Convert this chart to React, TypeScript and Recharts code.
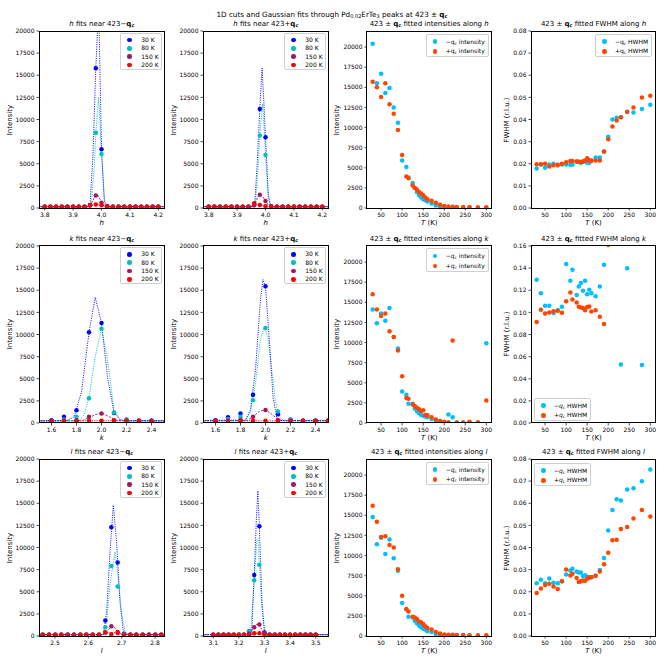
import React from 'react';
import { ScatterChart, Scatter, XAxis, YAxis } from 'recharts';

const FONT = "'DejaVu Sans', sans-serif";
const C30 = '#0000ff';
const C80 = '#00bfbf';
const C150 = '#a3175f';
const C200 = '#ff0000';
const CMINUS = '#00bfff';
const CPLUS = '#ff4500';

// ---------- temperature dependence ----------
const temps = [30, 40, 50, 60, 70, 80, 90, 100, 110, 115, 125, 130, 135, 140, 145, 150, 155, 160, 170, 180, 190, 200, 210, 220, 230, 245, 260, 280, 300];

const hIntMinus = [20400, 15500, 16700, 14300, 14900, 12500, 10600, 5900, 5100, 3800, 3100, 2500, 2000, 1600, 1300, 1100, 950, 800, 550, 300, 150, 80, 60, 50, 40, 40, 40, 40, 40];
const hIntPlus = [15700, 15000, 13800, 15500, 12900, 11700, 9700, 6600, 3900, 3700, 2800, 2500, 2300, 2000, 1800, 1600, 1300, 1100, 900, 650, 400, 250, 180, 150, 130, 120, 110, 100, 100];
const kIntMinus = [14100, 12400, 13600, 12700, 14300, 10700, 9250, 3900, 3500, 2400, 2400, 1800, 1500, 1200, 1000, 900, 800, 700, 500, 300, 200, 100, 1050, 700, 50, 50, 100, 50, 9900];
const kIntPlus = [16000, 14100, 13300, 13600, 11400, 10700, 9000, 5800, 3100, 3000, 2300, 2100, 1900, 1700, 1500, 1600, 1000, 950, 700, 450, 250, 150, 100, 10250, 50, 50, 150, 50, 2800];
const lIntMinus = [14800, 11400, 12200, 10200, 12000, 9650, 8100, 4100, 3300, 2400, 2300, 1900, 1600, 1300, 1100, 900, 800, 600, 500, 250, 150, 100, 50, 50, 50, 50, 50, 50, 50];
const lIntPlus = [16200, 14200, 12300, 12400, 11300, 11000, 8300, 5000, 3350, 3050, 2400, 2300, 2100, 1800, 1700, 1500, 1200, 1000, 800, 500, 300, 200, 150, 150, 120, 120, 100, 100, 100];

const hFwMinus = [0.0178, 0.0197, 0.0182, 0.0197, 0.0200, 0.0192, 0.0197, 0.0197, 0.0195, 0.0197, 0.0210, 0.0210, 0.0205, 0.0210, 0.0210, 0.0205, 0.0205, 0.0215, 0.0228, 0.0228, 0.0255, 0.0322, 0.0400, 0.0408, 0.0410, 0.0434, 0.0432, 0.0447, 0.0467];
const hFwPlus = [0.0198, 0.0198, 0.0200, 0.0188, 0.0193, 0.0195, 0.0200, 0.0207, 0.0212, 0.0212, 0.0210, 0.0208, 0.0208, 0.0210, 0.0215, 0.0225, 0.0215, 0.0213, 0.0215, 0.0215, 0.0255, 0.0311, 0.0368, 0.0395, 0.0410, 0.0435, 0.0454, 0.0500, 0.0507];
const kFwMinus = [0.1296, 0.1172, 0.106, 0.106, 0.0994, 0.102, 0.105, 0.1437, 0.1286, 0.1386, 0.1157, 0.1235, 0.1265, 0.1196, 0.1286, 0.1163, 0.1205, 0.1172, 0.1145, 0.1235, 0.1431, null, null, null, 0.0528, 0.1398, null, 0.0525, null];
const kFwPlus = [0.0912, 0.1024, 0.099, 0.100, 0.101, 0.1015, 0.0997, 0.110, 0.118, 0.1117, 0.109, 0.105, 0.1045, 0.104, 0.102, 0.1048, 0.1054, 0.1009, 0.102, 0.096, 0.0894, 0.161, null, null, null, null, null, null, null];
const lFwMinus = [0.0238, 0.0254, 0.0238, 0.026, 0.0241, 0.0238, 0.0248, 0.0278, 0.0296, 0.0304, 0.0292, 0.0287, 0.0287, 0.0271, 0.0275, 0.0268, 0.0263, 0.0266, 0.0272, 0.0298, 0.0353, 0.0477, 0.0569, 0.0618, 0.0612, 0.0662, 0.0668, 0.070, 0.0752];
const lFwPlus = [0.0194, 0.0215, 0.023, 0.0236, 0.0224, 0.0212, 0.0248, 0.0301, 0.0274, 0.0281, 0.0262, 0.0244, 0.0248, 0.0251, 0.025, 0.0259, 0.0265, 0.0265, 0.0272, 0.0292, 0.0324, 0.0376, 0.0433, 0.0435, 0.0484, 0.0493, 0.0531, 0.0569, 0.054];

// ---------- 1D cuts ----------
const hGrid = [3.80, 3.82, 3.84, 3.86, 3.88, 3.90, 3.92, 3.94, 3.96, 3.98, 4.00, 4.02, 4.04, 4.06, 4.08, 4.10, 4.12, 4.14, 4.16, 4.18, 4.20];
const hMinus30 = [150, 150, 150, 150, 150, 150, 150, 150, 350, 15800, 6650, 200, 150, 150, 150, 150, 150, 150, 150, 150, 150];
const hMinus80 = [150, 150, 150, 150, 150, 150, 150, 150, 250, 8500, 6100, 200, 150, 150, 150, 150, 150, 150, 150, 150, 150];
const hMinus150 = [150, 150, 150, 150, 150, 150, 150, 150, 300, 1400, 600, 200, 150, 150, 150, 150, 150, 150, 150, 150, 150];
const hMinus200 = [150, 150, 150, 150, 150, 150, 150, 150, 350, 400, 300, 200, 150, 150, 150, 150, 150, 150, 150, 150, 150];
const hPlus30 = [150, 150, 150, 150, 150, 150, 150, 150, 500, 11200, 8000, 200, 150, 150, 150, 150, 150, 150, 150, 150, 150];
const hPlus80 = [150, 150, 150, 150, 150, 150, 150, 150, 300, 8200, 6000, 200, 150, 150, 150, 150, 150, 150, 150, 150, 150];
const hPlus150 = [150, 150, 150, 150, 150, 150, 150, 150, 300, 1500, 800, 200, 150, 150, 150, 150, 150, 150, 150, 150, 150];
const hPlus200 = [150, 150, 150, 150, 150, 150, 150, 150, 450, 350, 200, 150, 150, 150, 150, 150, 150, 150, 150, 150, 150];

const kGridMinus = [1.6, 1.7, 1.8, 1.9, 2.0, 2.1, 2.2, 2.3, 2.4];
const kMinus30 = [300, 720, 1440, 10250, 11300, 1130, 300, 250, 250];
const kMinus80 = [250, 400, 720, 2800, 10650, 1200, 420, 250, 250];
const kMinus150 = [250, 250, 300, 720, 1060, 300, 250, 250, 250];
const kMinus200 = [230, 250, 250, 250, 250, 250, 250, 250, 230];
const kGridPlus = [1.6, 1.7, 1.8, 1.9, 2.0, 2.1, 2.2, 2.3, 2.4, 2.5];
const kPlus30 = [300, 640, 1060, 3180, 15450, 980, 350, 250, 250, 250];
const kPlus80 = [250, 450, 720, 2570, 10740, 1290, 420, 250, 250, 250];
const kPlus150 = [250, 250, 350, 720, 1470, 300, 250, 250, 250, 250];
const kPlus200 = [250, 250, 250, 250, 250, 250, 250, 250, 250, 250];

const lGridMinus = [2.463, 2.482, 2.501, 2.519, 2.538, 2.557, 2.576, 2.594, 2.613, 2.632, 2.651, 2.669, 2.688, 2.707, 2.726, 2.744, 2.763, 2.782, 2.801, 2.819];
const lMinus30 = [150, 150, 150, 150, 150, 150, 150, 150, 150, 150, 1750, 12300, 8300, 250, 150, 150, 150, 150, 150, 150];
const lMinus80 = [150, 150, 150, 150, 150, 150, 150, 150, 150, 150, 1000, 7900, 5600, 200, 150, 150, 150, 150, 150, 150];
const lMinus150 = [150, 150, 150, 150, 150, 150, 150, 150, 150, 150, 400, 1100, 450, 150, 150, 150, 150, 150, 150, 150];
const lMinus200 = [150, 150, 150, 150, 150, 150, 150, 150, 150, 150, 400, 200, 350, 150, 150, 150, 150, 150, 150, 150];
const lGridPlus = [3.10, 3.12, 3.14, 3.16, 3.18, 3.20, 3.22, 3.24, 3.26, 3.28, 3.30, 3.32, 3.34, 3.36, 3.38, 3.40, 3.42, 3.44, 3.46, 3.48, 3.50];
const lPlus30 = [150, 150, 150, 150, 150, 150, 150, 550, 6900, 12400, 400, 150, 150, 150, 150, 150, 150, 150, 150, 150, 150];
const lPlus80 = [150, 150, 150, 150, 150, 150, 150, 500, 6300, 8050, 250, 150, 150, 150, 150, 150, 150, 150, 150, 150, 150];
const lPlus150 = [150, 150, 150, 150, 150, 150, 150, 250, 1000, 1300, 250, 150, 150, 150, 150, 150, 150, 150, 150, 150, 150];
const lPlus200 = [150, 150, 150, 150, 150, 150, 150, 150, 300, 300, 150, 150, 150, 150, 150, 150, 150, 150, 150, 150, 150];

// ---------- Gaussian fit curves (vertices) ----------
const fitHMinus30 = [[3.78, 150], [3.955, 150], [3.96, 600], [3.97, 6000], [3.98, 15800], [3.99, 23000], [4.0, 6700], [4.01, 800], [4.015, 200], [4.02, 150], [4.22, 150]];
const fitHMinus80 = [[3.78, 150], [3.955, 150], [3.965, 800], [3.975, 5000], [3.98, 8500], [3.99, 12500], [4.0, 6100], [4.01, 1000], [4.02, 150], [4.22, 150]];
const fitHMinus150 = [[3.78, 150], [3.955, 150], [3.965, 500], [3.975, 1200], [3.985, 1500], [3.995, 1000], [4.0, 600], [4.01, 250], [4.02, 150], [4.22, 150]];
const fitHMinus200 = [[3.78, 150], [3.95, 150], [3.97, 300], [3.985, 400], [4.0, 330], [4.015, 180], [4.03, 150], [4.22, 150]];
const fitHPlus30 = [[3.78, 150], [3.955, 150], [3.962, 600], [3.97, 4500], [3.98, 11200], [3.988, 15800], [3.995, 11500], [4.0, 8000], [4.01, 1500], [4.018, 200], [4.025, 150], [4.22, 150]];
const fitHPlus80 = [[3.78, 150], [3.955, 150], [3.965, 700], [3.975, 5000], [3.98, 8200], [3.99, 11800], [4.0, 6000], [4.01, 1000], [4.02, 150], [4.22, 150]];
const fitHPlus150 = [[3.78, 150], [3.955, 150], [3.965, 600], [3.975, 1400], [3.98, 1550], [3.99, 1300], [4.0, 800], [4.01, 300], [4.02, 150], [4.22, 150]];
const fitHPlus200 = [[3.78, 150], [3.95, 150], [3.965, 400], [3.975, 420], [3.99, 300], [4.01, 160], [4.03, 150], [4.22, 150]];

const fitKMinus30 = [[1.5, 250], [1.72, 260], [1.78, 700], [1.84, 3500], [1.9, 10250], [1.95, 14200], [2.0, 11300], [2.05, 5000], [2.1, 1200], [2.15, 350], [2.2, 250], [2.5, 250]];
const fitKMinus80 = [[1.5, 250], [1.82, 280], [1.86, 900], [1.9, 2900], [1.95, 7500], [2.0, 10700], [2.05, 7000], [2.1, 1500], [2.15, 350], [2.2, 250], [2.5, 250]];
const fitKMinus150 = [[1.5, 250], [1.84, 260], [1.9, 600], [1.95, 950], [2.0, 1100], [2.05, 800], [2.1, 400], [2.15, 260], [2.5, 250]];
const fitKMinus200 = [[1.5, 230], [1.85, 240], [1.95, 270], [2.05, 260], [2.5, 230]];
const fitKPlus30 = [[1.5, 300], [1.84, 320], [1.88, 1500], [1.92, 6000], [1.96, 14000], [1.98, 16200], [2.0, 15400], [2.03, 9500], [2.06, 3000], [2.09, 600], [2.12, 300], [2.5, 300]];
const fitKPlus80 = [[1.5, 250], [1.84, 280], [1.88, 1200], [1.92, 4500], [1.96, 9500], [1.99, 10800], [2.02, 9700], [2.05, 6000], [2.08, 2400], [2.11, 700], [2.15, 260], [2.5, 250]];
const fitKPlus150 = [[1.5, 250], [1.85, 270], [1.9, 700], [1.95, 1300], [2.0, 1500], [2.05, 1000], [2.1, 400], [2.15, 260], [2.5, 250]];
const fitKPlus200 = [[1.5, 250], [2.5, 250]];

const fitLMinus30 = [[2.45, 150], [2.645, 160], [2.655, 2800], [2.665, 9500], [2.675, 14800], [2.685, 10500], [2.695, 3800], [2.705, 500], [2.712, 160], [2.83, 150]];
const fitLMinus80 = [[2.45, 150], [2.645, 160], [2.655, 1700], [2.665, 5800], [2.68, 9500], [2.69, 6500], [2.7, 2500], [2.71, 500], [2.72, 160], [2.83, 150]];
const fitLMinus150 = [[2.45, 150], [2.645, 170], [2.66, 700], [2.67, 1100], [2.68, 900], [2.69, 450], [2.7, 200], [2.83, 150]];
const fitLMinus200 = [[2.45, 150], [2.64, 160], [2.66, 350], [2.68, 380], [2.7, 200], [2.83, 150]];
const fitLPlus30 = [[3.06, 150], [3.25, 160], [3.26, 6900], [3.268, 13000], [3.274, 16400], [3.28, 12400], [3.29, 4000], [3.3, 500], [3.305, 160], [3.55, 150]];
const fitLPlus80 = [[3.06, 150], [3.245, 200], [3.26, 6300], [3.27, 10800], [3.275, 11000], [3.28, 8050], [3.29, 3000], [3.3, 500], [3.31, 160], [3.55, 150]];
const fitLPlus150 = [[3.06, 150], [3.24, 200], [3.26, 1050], [3.27, 1350], [3.28, 1300], [3.29, 700], [3.3, 250], [3.31, 160], [3.55, 150]];
const fitLPlus200 = [[3.06, 150], [3.25, 200], [3.27, 320], [3.29, 250], [3.31, 150], [3.55, 150]];

// ---------- axis ticks ----------
const intTicksCut = [0, 2500, 5000, 7500, 10000, 12500, 15000, 17500, 20000];
const intTicksT = [0, 2500, 5000, 7500, 10000, 12500, 15000, 17500, 20000];
const tTicks = [50, 100, 150, 200, 250, 300];
const fwTicks8 = [0, 0.01, 0.02, 0.03, 0.04, 0.05, 0.06, 0.07, 0.08];
const fwTicks16 = [0, 0.02, 0.04, 0.06, 0.08, 0.1, 0.12, 0.14, 0.16];
const hTicks = [3.8, 3.9, 4.0, 4.1, 4.2];
const kTicks = [1.6, 1.8, 2.0, 2.2, 2.4];
const lTicksMinus = [2.5, 2.6, 2.7, 2.8];
const lTicksPlus = [3.1, 3.2, 3.3, 3.4, 3.5];

// ---------- helpers ----------
const pts = (xs: number[], ys: (number | null)[]) =>
  xs.map((x, i) => ({ x, y: ys[i] })).filter((d) => d.y !== null && d.y !== undefined);
const pairs = (arr: number[][]) => arr.map(([x, y]) => ({ x, y }));

const PW = 125;
const PH = 177;
const COLS = [39.3, 203.3, 366.7, 531];
const ROWS = [31.3, 245.7, 459.3];
const YW = 40;
const XH = 20;
const MT = 6;
const MR = 6;

const dotShape = (color: string) => (props: any) =>
  props.cx == null || props.cy == null ? <g /> : <circle cx={props.cx} cy={props.cy} r={2.25} fill={color} />;
const noShape = () => <g />;

type PtSeries = { data: { x: number; y: any }[]; color: string };
type FitSeries = { data: { x: number; y: number }[]; color: string; dash: string };

function Panel(props: {
  col: number; row: number;
  xDomain: number[]; xTicks: number[]; xDigits: number;
  yDomain: number[]; yTicks: number[]; yDigits: number;
  points: PtSeries[]; fits?: FitSeries[];
}) {
  const { col, row, xDomain, xTicks, xDigits, yDomain, yTicks, yDigits, points, fits = [] } = props;
  const px = COLS[col];
  const py = ROWS[row];
  const W = PW + YW + MR;
  const H = PH + XH + MT;
  const tickStyle = { fontSize: 6, fill: '#000', fontFamily: FONT };
  return (
    <div style={{ position: 'absolute', left: px - YW, top: py - MT, width: W, height: H }}>
      <ScatterChart width={W} height={H} margin={{ top: MT, right: MR, bottom: 0, left: 0 }}>
        <XAxis type="number" dataKey="x" domain={xDomain} ticks={xTicks} allowDataOverflow interval={0}
          tickFormatter={(v: number) => v.toFixed(xDigits)} height={XH} tickSize={2.5} tickMargin={2}
          axisLine={false} tickLine={{ stroke: '#000', strokeWidth: 0.7 }} tick={tickStyle} />
        <YAxis type="number" dataKey="y" domain={yDomain} ticks={yTicks} allowDataOverflow interval={0}
          tickFormatter={(v: number) => v.toFixed(yDigits)} width={YW} tickSize={2.5} tickMargin={2}
          axisLine={false} tickLine={{ stroke: '#000', strokeWidth: 0.7 }} tick={tickStyle} />
        {fits.map((f, i) => (
          <Scatter key={'f' + i} data={f.data} fill={f.color} shape={noShape} lineType="joint"
            line={{ stroke: f.color, strokeWidth: 0.9, strokeDasharray: f.dash, fill: 'none' }}
            isAnimationActive={false} />
        ))}
        {points.map((p, i) => (
          <Scatter key={'p' + i} data={p.data} fill={p.color} shape={dotShape(p.color)} isAnimationActive={false} />
        ))}
      </ScatterChart>
      <div style={{ position: 'absolute', left: YW - 0.4, top: MT - 0.4, width: PW + 0.8, height: PH + 0.8, border: '0.8px solid #000', boxSizing: 'border-box', pointerEvents: 'none' }} />
    </div>
  );
}

const Qc = ({ italic = false, bold = false }: { italic?: boolean; bold?: boolean }) => (
  <span style={{ fontWeight: bold ? 'bold' : 'normal', fontStyle: italic ? 'italic' : 'normal' }}>
    q<span style={{ fontSize: '0.7em', verticalAlign: '-0.25em', fontStyle: 'normal' }}>c</span>
  </span>
);

function Title({ col, row, children }: { col: number; row: number; children: React.ReactNode }) {
  const cx = COLS[col] + PW / 2;
  return (
    <div style={{ position: 'absolute', left: cx - 100, width: 200, top: ROWS[row] - 12, textAlign: 'center', fontSize: 7, lineHeight: '10px', fontFamily: FONT, whiteSpace: 'nowrap', color: '#000' }}>
      {children}
    </div>
  );
}

function XLabel({ col, row, children }: { col: number; row: number; children: React.ReactNode }) {
  const cx = COLS[col] + PW / 2;
  return (
    <div style={{ position: 'absolute', left: cx - 50, width: 100, top: ROWS[row] + PH + 10, textAlign: 'center', fontSize: 7, lineHeight: '10px', fontFamily: FONT, color: '#000' }}>
      {children}
    </div>
  );
}

function YLabel({ x, row, children }: { x: number; row: number; children: React.ReactNode }) {
  const cy = ROWS[row] + PH / 2;
  return (
    <div style={{ position: 'absolute', left: x - 50, width: 100, top: cy - 5, textAlign: 'center', fontSize: 7, lineHeight: '10px', fontFamily: FONT, color: '#000', transform: 'rotate(-90deg)' }}>
      {children}
    </div>
  );
}

function LegendBox({ left, top, width, spacing, textOffset, entries }: {
  left: number; top: number; width: number; spacing: number; textOffset: number;
  entries: { color: string; label: React.ReactNode }[];
}) {
  const height = entries.length * spacing + 4;
  return (
    <div style={{ position: 'absolute', left, top, width, height, background: 'rgba(255,255,255,0.8)', border: '0.8px solid #d0d0d0', borderRadius: 2, boxSizing: 'border-box', fontFamily: FONT, fontSize: 6, color: '#000' }}>
      {entries.map((e, i) => (
        <div key={i} style={{ position: 'absolute', left: 0, top: 2 + i * spacing, height: spacing, width: '100%' }}>
          <div style={{ position: 'absolute', left: 6, top: spacing / 2 - 2.3, width: 4.6, height: 4.6, borderRadius: '50%', background: e.color }} />
          <div style={{ position: 'absolute', left: textOffset, top: spacing / 2 - 4, lineHeight: '8px', whiteSpace: 'nowrap' }}>{e.label}</div>
        </div>
      ))}
    </div>
  );
}

const cutLegendEntries = [
  { color: C30, label: '30 K' },
  { color: C80, label: '80 K' },
  { color: C150, label: '150 K' },
  { color: C200, label: '200 K' },
];

function CutLegend({ col, row }: { col: number; row: number }) {
  return <LegendBox left={COLS[col] + PW - 44} top={ROWS[row] + 1.5} width={42} spacing={8.3} textOffset={20} entries={cutLegendEntries} />;
}

const DOT = '1.1 1.2';
const DASH150 = '2.2 1.4';

function cutPoints(grid: number[], a: number[], b: number[], c: number[], d: number[]): PtSeries[] {
  return [
    { data: pts(grid, a), color: C30 },
    { data: pts(grid, b), color: C80 },
    { data: pts(grid, c), color: C150 },
    { data: pts(grid, d), color: C200 },
  ];
}
function cutFits(a: number[][], b: number[][], c: number[][], d: number[][]): FitSeries[] {
  return [
    { data: pairs(d), color: C200, dash: DOT },
    { data: pairs(c), color: C150, dash: DASH150 },
    { data: pairs(b), color: C80, dash: DOT },
    { data: pairs(a), color: C30, dash: DOT },
  ];
}

function tSeries(minus: (number | null)[], plus: (number | null)[]): PtSeries[] {
  return [
    { data: pts(temps, minus), color: CMINUS },
    { data: pts(temps, plus), color: CPLUS },
  ];
}

export default function App() {
  const T_DOMAIN = [16.5, 313.5];
  const INT_DOMAIN = [0, 22000];
  const CUT_DOMAIN = [0, 20000];
  const sub = (t: string) => <span style={{ fontSize: '0.7em', verticalAlign: '-0.25em' }}>{t}</span>;
  const italicAxis = (a: string) => <span style={{ fontStyle: 'italic' }}>{a}</span>;

  const intLegend = (row: number, italic: boolean) => (
    <LegendBox left={COLS[2] + 59} top={ROWS[row] + 2.5} width={63.5} spacing={9.8} textOffset={19}
      entries={[
        { color: CMINUS, label: <span>−<Qc italic={italic} /> intensity</span> },
        { color: CPLUS, label: <span>+<Qc italic={italic} /> intensity</span> },
      ]} />
  );
  const fwLegend = (left: number, top: number, italic: boolean) => (
    <LegendBox left={left} top={top} width={57} spacing={9.8} textOffset={19}
      entries={[
        { color: CMINUS, label: <span>−<Qc italic={italic} /> HWHM</span> },
        { color: CPLUS, label: <span>+<Qc italic={italic} /> HWHM</span> },
      ]} />
  );

  const axes = ['h', 'k', 'l'];

  return (
    <div style={{ position: 'absolute', left: 0, top: 0, width: 664, height: 664, background: '#fff', fontFamily: FONT }}>
      <div style={{ position: 'absolute', left: 132, width: 400, top: 10, textAlign: 'center', fontSize: 7.2, lineHeight: '10px', whiteSpace: 'nowrap' }}>
        1D cuts and Gaussian fits through Pd{sub('0.02')}ErTe{sub('3')} peaks at 423 ± <Qc bold />
      </div>

      {/* Row 1: h */}
      <Panel col={0} row={0} xDomain={[3.78, 4.22]} xTicks={hTicks} xDigits={1} yDomain={CUT_DOMAIN} yTicks={intTicksCut} yDigits={0}
        points={cutPoints(hGrid, hMinus30, hMinus80, hMinus150, hMinus200)}
        fits={cutFits(fitHMinus30, fitHMinus80, fitHMinus150, fitHMinus200)} />
      <Panel col={1} row={0} xDomain={[3.78, 4.22]} xTicks={hTicks} xDigits={1} yDomain={CUT_DOMAIN} yTicks={intTicksCut} yDigits={0}
        points={cutPoints(hGrid, hPlus30, hPlus80, hPlus150, hPlus200)}
        fits={cutFits(fitHPlus30, fitHPlus80, fitHPlus150, fitHPlus200)} />
      <Panel col={2} row={0} xDomain={T_DOMAIN} xTicks={tTicks} xDigits={0} yDomain={INT_DOMAIN} yTicks={intTicksT} yDigits={0}
        points={tSeries(hIntMinus, hIntPlus)} />
      <Panel col={3} row={0} xDomain={T_DOMAIN} xTicks={tTicks} xDigits={0} yDomain={[0, 0.08]} yTicks={fwTicks8} yDigits={2}
        points={tSeries(hFwMinus, hFwPlus)} />

      {/* Row 2: k */}
      <Panel col={0} row={1} xDomain={[1.5, 2.5]} xTicks={kTicks} xDigits={1} yDomain={CUT_DOMAIN} yTicks={intTicksCut} yDigits={0}
        points={cutPoints(kGridMinus, kMinus30, kMinus80, kMinus150, kMinus200)}
        fits={cutFits(fitKMinus30, fitKMinus80, fitKMinus150, fitKMinus200)} />
      <Panel col={1} row={1} xDomain={[1.5, 2.5]} xTicks={kTicks} xDigits={1} yDomain={CUT_DOMAIN} yTicks={intTicksCut} yDigits={0}
        points={cutPoints(kGridPlus, kPlus30, kPlus80, kPlus150, kPlus200)}
        fits={cutFits(fitKPlus30, fitKPlus80, fitKPlus150, fitKPlus200)} />
      <Panel col={2} row={1} xDomain={T_DOMAIN} xTicks={tTicks} xDigits={0} yDomain={INT_DOMAIN} yTicks={intTicksT} yDigits={0}
        points={tSeries(kIntMinus, kIntPlus)} />
      <Panel col={3} row={1} xDomain={T_DOMAIN} xTicks={tTicks} xDigits={0} yDomain={[0, 0.16]} yTicks={fwTicks16} yDigits={2}
        points={tSeries(kFwMinus, kFwPlus)} />

      {/* Row 3: l */}
      <Panel col={0} row={2} xDomain={[2.452, 2.827]} xTicks={lTicksMinus} xDigits={1} yDomain={CUT_DOMAIN} yTicks={intTicksCut} yDigits={0}
        points={cutPoints(lGridMinus, lMinus30, lMinus80, lMinus150, lMinus200)}
        fits={cutFits(fitLMinus30, fitLMinus80, fitLMinus150, fitLMinus200)} />
      <Panel col={1} row={2} xDomain={[3.06, 3.548]} xTicks={lTicksPlus} xDigits={1} yDomain={CUT_DOMAIN} yTicks={intTicksCut} yDigits={0}
        points={cutPoints(lGridPlus, lPlus30, lPlus80, lPlus150, lPlus200)}
        fits={cutFits(fitLPlus30, fitLPlus80, fitLPlus150, fitLPlus200)} />
      <Panel col={2} row={2} xDomain={T_DOMAIN} xTicks={tTicks} xDigits={0} yDomain={INT_DOMAIN} yTicks={intTicksT} yDigits={0}
        points={tSeries(lIntMinus, lIntPlus)} />
      <Panel col={3} row={2} xDomain={T_DOMAIN} xTicks={tTicks} xDigits={0} yDomain={[0, 0.08]} yTicks={fwTicks8} yDigits={2}
        points={tSeries(lFwMinus, lFwPlus)} />

      {/* titles */}
      {axes.map((a, r) => (
        <React.Fragment key={a}>
          <Title col={0} row={r}>{italicAxis(a)} fits near 423−<Qc bold /></Title>
          <Title col={1} row={r}>{italicAxis(a)} fits near 423+<Qc bold /></Title>
          <Title col={2} row={r}>423 ± <Qc bold /> fitted intensities along {italicAxis(a)}</Title>
          <Title col={3} row={r}>423 ± <Qc bold /> fitted FWHM along {italicAxis(a)}</Title>
          <XLabel col={0} row={r}>{italicAxis(a)}</XLabel>
          <XLabel col={1} row={r}>{italicAxis(a)}</XLabel>
          <XLabel col={2} row={r}>{italicAxis('T')} (K)</XLabel>
          <XLabel col={3} row={r}>{italicAxis('T')} (K)</XLabel>
          <YLabel x={10} row={r}>Intensity</YLabel>
          <YLabel x={174} row={r}>Intensity</YLabel>
          <YLabel x={337} row={r}>Intensity</YLabel>
          <YLabel x={506.5} row={r}>FWHM (r.l.u.)</YLabel>
          <CutLegend col={0} row={r} />
          <CutLegend col={1} row={r} />
        </React.Fragment>
      ))}

      {intLegend(0, false)}
      {intLegend(1, true)}
      {intLegend(2, true)}
      {fwLegend(COLS[3] + 64, ROWS[0] + 2.5, false)}
      {fwLegend(COLS[3] + 3, ROWS[1] + PH - 25, true)}
      {fwLegend(COLS[3] + 3, ROWS[2] + 3.5, true)}
    </div>
  );
}
